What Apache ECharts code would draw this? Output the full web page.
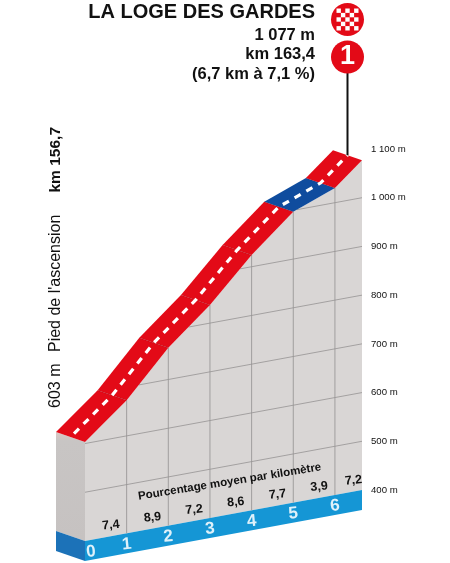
<!DOCTYPE html>
<html>
<head>
<meta charset="utf-8">
<title>La Loge des Gardes</title>
<style>
  html, body { margin: 0; padding: 0; background: #fff; }
  #chart { width: 450px; height: 563px; }
</style>
<script src="https://cdn.jsdelivr.net/npm/echarts@6/dist/echarts.min.js"></script>
</head>
<body>
<div id="chart"></div>
<script>
// km du profil et altitude du bord avant de la route
const kmPoints = [0, 1, 2, 3, 4, 5, 6, 6.65];
const elevations = [603, 673, 765, 837, 924, 997, 1030, 1077];
const percents = ['7,4', '8,9', '7,2', '8,6', '7,7', '3,9', '7,2'];
const segmentColors = ['#e30a17', '#e30a17', '#e30a17', '#e30a17', '#e30a17', '#0f4c9e', '#e30a17'];
const kmLabels = ['0', '1', '2', '3', '4', '5', '6'];
const elevationTicks = [500, 600, 700, 800, 900, 1000];
const titleLines = ['1 077 m', 'km 163,4', '(6,7 km à 7,1 %)'];

const KM_MAX = 6.65;
const ELEV_MIN = 400;
const ELEV_MAX = 1100;
const BASE_BOTTOM = 359;
const SHEAR = 0.184;       // pente de la perspective
const DEPTH = [-29, -10];  // largeur de la route à l'écran
const FONT = '"Liberation Sans", Arial, sans-serif';

const myChart = echarts.init(document.getElementById('chart'), null, { renderer: 'canvas' });

// axes cartésiens + cisaillement vers la gauche
function project(api, km, elev) {
  const p = api.coord([km, elev]);
  const right = api.coord([KM_MAX, elev])[0];
  return [p[0], p[1] + (right - p[0]) * SHEAR];
}

function shift(p, k) {
  return [p[0] + DEPTH[0] * k, p[1] + DEPTH[1] * k];
}

function elevationAt(km) {
  for (let i = 0; i < kmPoints.length - 1; i++) {
    if (km <= kmPoints[i + 1]) {
      const t = (km - kmPoints[i]) / (kmPoints[i + 1] - kmPoints[i]);
      return elevations[i] + (elevations[i + 1] - elevations[i]) * t;
    }
  }
  return elevations[elevations.length - 1];
}

function kmAtElevation(elev) {
  for (let i = 0; i < kmPoints.length - 1; i++) {
    if (elev <= elevations[i + 1]) {
      const t = Math.max(0, (elev - elevations[i]) / (elevations[i + 1] - elevations[i]));
      return kmPoints[i] + (kmPoints[i + 1] - kmPoints[i]) * t;
    }
  }
  return KM_MAX;
}

function poly(points, fill) {
  return { type: 'polygon', shape: { points }, style: { fill } };
}

function seg(a, b, stroke, lineWidth) {
  return {
    type: 'line',
    shape: { x1: a[0], y1: a[1], x2: b[0], y2: b[1] },
    style: { stroke, lineWidth }
  };
}

function renderBody(params, api) {
  const top = kmPoints.map((km, i) => project(api, km, elevations[i]));
  const foot0 = project(api, 0, ELEV_MIN);
  const footEnd = project(api, KM_MAX, ELEV_MIN);
  const base0 = project(api, 0, BASE_BOTTOM);
  const baseEnd = project(api, KM_MAX, BASE_BOTTOM);
  const children = [
    poly(top.concat([footEnd, foot0]), '#d9d6d5'),
    {
      type: 'polygon',
      shape: { points: [shift(top[0], 1), top[0], foot0, shift(foot0, 1)] },
      style: {
        fill: new echarts.graphic.LinearGradient(0, 0, 0, 1, [
          { offset: 0, color: '#dcc8c4' },
          { offset: 0.08, color: '#c8c5c4' },
          { offset: 1, color: '#c6c2c1' }
        ])
      }
    },
    poly([foot0, footEnd, baseEnd, base0], '#1596d5'),
    poly([shift(foot0, 1), foot0, base0, shift(base0, 1)], '#1c72b8')
  ];
  // quadrillage
  for (let k = 1; k <= 6; k++) {
    children.push(seg(project(api, k, ELEV_MIN), project(api, k, elevationAt(k)), '#a09e9e', 1));
  }
  elevationTicks.forEach(e => {
    children.push(seg(project(api, kmAtElevation(e), e), project(api, KM_MAX, e), '#959393', 0.8));
  });
  return { type: 'group', children };
}

function renderRoad(params, api) {
  const top = kmPoints.map((km, i) => project(api, km, elevations[i]));
  const children = [];
  segmentColors.forEach((color, i) => {
    children.push(poly([top[i], top[i + 1], shift(top[i + 1], 1), shift(top[i], 1)], color));
  });
  for (let i = 1; i < top.length - 1; i++) {
    children.push(seg(top[i], shift(top[i], 1), 'rgba(120,10,20,0.3)', 0.8));
  }
  const center = top.map(p => shift(p, 0.5));
  children.push({
    type: 'polyline',
    shape: { points: center },
    style: { stroke: '#fff', lineWidth: 3.2, lineDash: [7, 6.5], lineDashOffset: -5, fill: null }
  });
  // poteau jusqu'au sommet
  const summit = center[center.length - 1];
  children.push(seg([summit[0], 72], summit, '#111', 2));
  return { type: 'group', children };
}

function renderLabels(params, api) {
  const children = [];
  kmLabels.forEach((label, i) => {
    const p = project(api, kmPoints[i], ELEV_MIN);
    children.push({
      type: 'text',
      x: p[0] + (i === 0 ? 6 : 0),
      y: p[1] + 11,
      rotation: 0.1,
      style: {
        text: label, font: 'bold 17px ' + FONT, fill: '#dff1fa',
        textAlign: 'center', textVerticalAlign: 'middle'
      }
    });
  });
  percents.forEach((label, i) => {
    const mid = (kmPoints[i] + kmPoints[i + 1]) / 2;
    const p = project(api, mid, ELEV_MIN);
    children.push({
      type: 'text',
      x: p[0] + 5,
      y: p[1] - 12,
      rotation: 0.1,
      style: {
        text: label, font: 'bold 12.5px ' + FONT, fill: '#111',
        textAlign: 'center', textVerticalAlign: 'middle'
      }
    });
  });
  const cap = project(api, 3.4, ELEV_MIN);
  children.push({
    type: 'text',
    x: cap[0] + 3,
    y: cap[1] - 33,
    rotation: 0.16,
    style: {
      text: 'Pourcentage moyen par kilomètre', font: 'bold 11.5px ' + FONT, fill: '#111',
      textAlign: 'center', textVerticalAlign: 'middle'
    }
  });
  return { type: 'group', children };
}

function customSeries(renderItem) {
  return {
    type: 'custom',
    coordinateSystem: 'cartesian2d',
    data: [[0, ELEV_MIN]],
    clip: false,
    silent: true,
    renderItem
  };
}

// damier du sommet
const checker = [];
const CELL = 4.4;
for (let i = -3; i <= 3; i++) {
  for (let j = -3; j <= 3; j++) {
    if ((i + j + 6) % 2 === 0 && Math.hypot(i, j) * CELL < 13) {
      checker.push({
        type: 'rect',
        x: 347.5 + i * CELL - CELL / 2,
        y: 19.5 + j * CELL - CELL / 2,
        shape: { width: CELL, height: CELL },
        style: { fill: '#fff' },
        z: 12
      });
    }
  }
}

function sideText(text, y, align, weight, size) {
  return {
    type: 'text',
    x: 56,
    y,
    rotation: Math.PI / 2,
    style: {
      text, font: weight + ' ' + size + 'px ' + FONT, fill: '#111',
      textAlign: align, textVerticalAlign: 'middle'
    }
  };
}

function titleText(text, y, size) {
  return {
    type: 'text',
    x: 315,
    y,
    style: {
      text, font: 'bold ' + size + 'px ' + FONT, fill: '#111',
      textAlign: 'right', textVerticalAlign: 'middle'
    }
  };
}

myChart.setOption({
  animation: false,
  backgroundColor: '#fff',
  grid: { left: 85, width: 277, top: 149, height: 341, containLabel: false },
  xAxis: { type: 'value', min: 0, max: KM_MAX, show: false },
  yAxis: {
    type: 'value',
    position: 'right',
    min: ELEV_MIN,
    max: ELEV_MAX,
    interval: 100,
    axisLine: { show: false },
    axisTick: { show: false },
    splitLine: { show: false },
    axisLabel: {
      margin: 9,
      color: '#111',
      fontFamily: FONT,
      fontSize: 9.6,
      formatter: v => String(v).replace(/\B(?=(\d{3})+$)/, ' ') + ' m'
    }
  },
  series: [customSeries(renderBody), customSeries(renderRoad), customSeries(renderLabels)],
  graphic: [
    titleText('LA LOGE DES GARDES', 12, 20),
    titleText(titleLines[0], 35, 16.5),
    titleText(titleLines[1], 54, 16.5),
    titleText(titleLines[2], 74, 16.5),
    sideText('603 m', 408, 'left', 'normal', 16),
    sideText("Pied de l'ascension", 352, 'left', 'normal', 16),
    sideText('km 156,7', 127, 'right', 'bold', 15.5),
    { type: 'circle', shape: { cx: 347.5, cy: 19.5, r: 16.5 }, style: { fill: '#e30a17' }, z: 11 },
    { type: 'circle', shape: { cx: 347.5, cy: 57, r: 16.5 }, style: { fill: '#e30a17' }, z: 11 },
    {
      type: 'text', x: 347.5, y: 57, z: 12,
      style: {
        text: '1', font: 'bold 27px ' + FONT, fill: '#fff',
        textAlign: 'center', textVerticalAlign: 'middle'
      }
    }
  ].concat(checker)
});
</script>
</body>
</html>
